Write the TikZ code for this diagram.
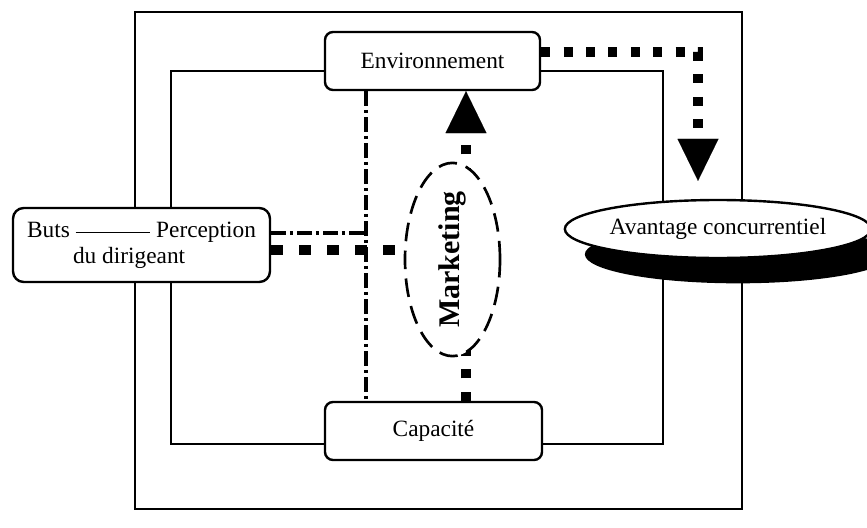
\documentclass[tikz,border=0pt]{standalone}
\usepackage{fontspec}
\setmainfont{Liberation Serif}
\usepackage{graphicx}
\usetikzlibrary{arrows.meta,shapes.geometric,shadows,calc}
\pgfdeclarelayer{bg}
\pgfsetlayers{bg,main}
\begin{document}
\begin{tikzpicture}[x=0.75pt,y=-0.75pt,
  txt/.style={font=\fontsize{17.5}{19.5}\selectfont},
  box/.style={draw, line width=1.8pt, rounded corners=6pt, fill=white, inner sep=0pt, txt},
  frameline/.style={line width=1.5pt},
  sq/.style={line width=6.8pt, dash pattern=on 6.8pt off 10pt},
  sqb/.style={line width=7.5pt, dash pattern=on 8.5pt off 12.5pt},
  dd/.style={line width=2.4pt, dash pattern=on 11pt off 3pt on 2.5pt off 3pt},
  bigtip/.style={-{Triangle[width=30.75pt,length=31.5pt,line width=0.01pt]}}
]
\useasboundingbox (0,0) rectangle (867,528);

% nodes
\node[box, minimum width=161.25pt, minimum height=43.5pt] (env) at (432.5,61) {Environnement};
\node[box, minimum width=162.75pt, minimum height=43.5pt] (cap) at (433.5,431) {Capacit\'e};
\node[box, rounded corners=8pt, minimum width=192.75pt, minimum height=55.5pt, align=left] (buts) at (141.5,245)
  {Buts \rule[0.17em]{56pt}{0.07em} Perception\\\hspace*{34.5pt}du dirigeant};
\node[ellipse, draw, line width=1.8pt, fill=white, inner sep=0pt, minimum width=213pt, minimum height=43.5pt, txt,
  drop shadow={shadow xshift=15pt, shadow yshift=-19pt, fill=black, opacity=1}] (av) at (718,229) {Avantage concurrentiel};
\node[ellipse, draw, line width=2pt, dash pattern=on 14pt off 7pt, fill=white, inner sep=0pt,
  minimum width=71.25pt, minimum height=139.5pt,
  font=\bfseries\fontsize{22.5}{24}\selectfont] (mk) at (452.5,259.5) {\rotatebox{90}{Marketing}};

\coordinate (vline) at (466,0);
\coordinate (dline) at (366,0);
\coordinate (bdd) at ($(buts.east)+(0,-12)$);
\coordinate (bsq) at ($(buts.east)+(0,5)$);
\coordinate (esq) at ($(env.east)+(0,-9)$);
\coordinate (avtip) at ($(av.north)+(-20,-18)$);

\begin{pgfonlayer}{bg}
  \draw[frameline] (135,12) rectangle (742,509);
  \draw[frameline, line width=1.2pt] (171,71) rectangle (663,444);
  % dash-dot links
  \draw[dd] (env.south -| dline) -- (cap.north -| dline);
  \draw[dd] (bdd) -- (bdd -| dline);
  % square-dotted links
  \draw[sqb] (bsq) -- (bsq -| mk.west);
  \draw[sq, bigtip] (cap.north -| vline) -- (env.south -| vline);
  \draw[sq, bigtip] (esq) -| (avtip);
\end{pgfonlayer}
\end{tikzpicture}
\end{document}
